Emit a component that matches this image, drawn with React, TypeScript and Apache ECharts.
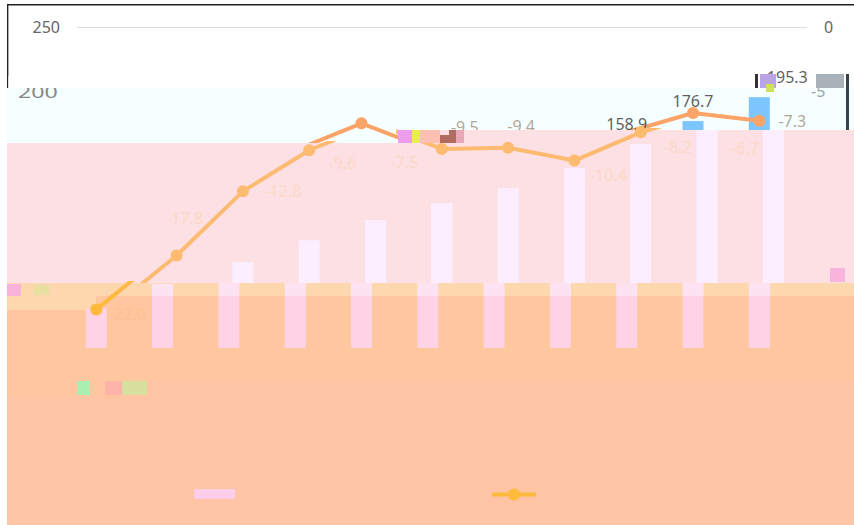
import React, { useEffect, useRef } from "react";
import * as echarts from "echarts";

// ---- data ----
const categoryIndex = [0, 1, 2, 3, 4, 5, 6, 7, 8, 9, 10];
const barValues = [31, 50, 67, 84, 99.7, 113, 124.6, 140.2, 158.9, 176.7, 195.3];
const lineValues = [-22.0, -17.8, -12.8, -9.6, -7.5, -9.5, -9.4, -10.4, -8.2, -6.7, -7.3];
const leftTickLabels = ["250"];
const rightTickLabels = ["0"];
const clippedLeftTick = "200";
const clippedRightTick = "-5";
const legendNames = ["Value", "Change"];

// ---- layout: pixel scales of the plot ----
const X0 = 96.3, XSTEP = 66.3;
const BAR_ZERO = 348, BAR_PX = 1.284;
const LINE_ZERO = 27, LINE_PX = 12.84;
const W = 854, H = 525;

// The picture is cut in horizontal bands; each draws the same data in its own colours
// (the middle one is displaced 14px to the right).
const layers = [
  {
    z: 2, dx: 0, bar: "#7dc5ff", line: "#fca368", label: "#a58b7a",
    slices: [[77, 398, 5, 143], [398, 854, 5, 130]],
    lineLabels: { 5: [37, -22], 6: [27, -22], 10: [33, 0] } as Record<number, number[]>,
    barLabels: { 8: [0, 0], 9: [0, 0], 10: [28, 0] } as Record<number, number[]>,
  },
  {
    z: 4, dx: 14, bar: "#fdeeff", line: "#fdbb72", label: "#fcd6bc",
    slices: [[7, 398, 143, 283], [398, 854, 130, 283]],
    lineLabels: { 1: [8, -38], 2: [40, 0], 3: [33, 13], 4: [29, 39], 7: [34, 14], 8: [37, 15], 9: [38, 35] } as Record<number, number[]>,
    barLabels: {} as Record<number, number[]>,
  },
  {
    z: 6, dx: 0, bar: "#fde2f2", line: "#fdb848", label: "#fdbe90",
    slices: [[7, 854, 283, 296]],
    lineLabels: {} as Record<number, number[]>,
    barLabels: {} as Record<number, number[]>,
  },
  {
    z: 6, dx: 0, bar: "#ffd2e6", line: "#ffba3c", label: "#fdbe90",
    slices: [[7, 854, 296, 400]],
    lineLabels: { 0: [31, 5] } as Record<number, number[]>,
    barLabels: {} as Record<number, number[]>,
  },
];

const rect = (x: number, y: number, w: number, h: number, fill: string, z: number) => ({
  type: "rect", silent: true, z, shape: { x, y, width: w, height: h }, style: { fill },
});

const noise: [number, number, number, number, string][] = [
  [7, 284, 14, 12, "#f7b4d8"], [34, 285, 15, 10, "#e8e0a0"],
  [398, 130, 14, 13, "#ee9cee"], [412, 130, 8, 13, "#e6ee50"], [420, 130, 20, 13, "#fcc0b2"],
  [440, 135, 16, 8, "#b06c5e"], [449, 130, 7, 6, "#b06c5e"], [456, 130, 8, 13, "#e8a8b8"],
  [755, 74, 3, 14, "#333333"], [760, 74, 16, 14, "#b8a4e6"], [766, 84, 8, 8, "#cfe05a"],
  [77, 381, 13, 14, "#a8eeb0"], [105, 381, 18, 14, "#feb4a8"], [122, 381, 25, 14, "#d8e0a0"],
  [830, 268, 15, 14, "#f8b4dc"],
];

export default function App() {
  const ref = useRef<HTMLDivElement>(null);
  useEffect(() => {
    const chart = echarts.init(ref.current!, undefined, { renderer: "svg" });

    const grid: any[] = [{ left: 77, top: 27, width: 730, height: 321 }];
    const xAxis: any[] = [{ type: "value", gridIndex: 0, show: false, min: 0, max: 10 }];
    const yAxis: any[] = [
      {
        type: "value", gridIndex: 0, min: 0, max: 250, interval: 50, z: 1,
        axisLine: { show: false }, axisTick: { show: false },
        axisLabel: {
          margin: 17, fontSize: 16, fontFamily: "Noto Sans", color: "#666",
          formatter: (v: number) => (leftTickLabels.includes(String(v)) ? String(v) : ""),
        },
        splitLine: {
          show: true,
          lineStyle: { color: ["rgba(0,0,0,0)", "rgba(0,0,0,0)", "rgba(0,0,0,0)", "rgba(0,0,0,0)", "rgba(0,0,0,0)", "#dddddd"], width: 1 },
        },
      },
      {
        type: "value", gridIndex: 0, position: "right", min: -25, max: 0, interval: 5, z: 1,
        axisLine: { show: false }, axisTick: { show: false }, splitLine: { show: false },
        axisLabel: {
          margin: 17, fontSize: 16, fontFamily: "Noto Sans", color: "#666",
          formatter: (v: number) => (rightTickLabels.includes(String(v)) ? String(v) : ""),
        },
      },
    ];
    const series: any[] = [];

    layers.forEach((layer, li) => {
      let firstAxes = [0, 0, 0];
      layer.slices.forEach(([x0, x1, y0, y1], si) => {
        const g = grid.length;
        grid.push({ left: x0, top: y0, width: x1 - x0, height: y1 - y0 });
        const xi = xAxis.length;
        xAxis.push({
          type: "value", gridIndex: g, show: false,
          min: (x0 - layer.dx - X0) / XSTEP, max: (x1 - layer.dx - X0) / XSTEP,
          splitLine: { show: false },
        });
        const yb = yAxis.length;
        yAxis.push({
          type: "value", gridIndex: g, show: false, splitLine: { show: false },
          min: (BAR_ZERO - y1) / BAR_PX, max: (BAR_ZERO - y0) / BAR_PX,
        });
        yAxis.push({
          type: "value", gridIndex: g, show: false, splitLine: { show: false },
          min: (LINE_ZERO - y1) / LINE_PX, max: (LINE_ZERO - y0) / LINE_PX,
        });
        if (si === 0) firstAxes = [xi, yb, yb + 1];
        const last = li === layers.length - 1;
        series.push({
          type: "bar", name: last ? legendNames[0] : `bar${li}${si}`, xAxisIndex: xi, yAxisIndex: yb,
          z: layer.z, barWidth: 21, clip: true, itemStyle: { color: layer.bar },
          data: categoryIndex.map((i) => [i, barValues[i]]),
        });
        series.push({
          type: "line", name: last ? legendNames[1] : `line${li}${si}`, xAxisIndex: xi, yAxisIndex: yb + 1,
          z: layer.z + 0.5, clip: true, showSymbol: true, symbol: "circle", symbolSize: 12,
          lineStyle: { color: layer.line, width: 4 }, itemStyle: { color: layer.line },
          data: categoryIndex.map((i) => [i, lineValues[i]]),
        });
      });
      const lineIdx = Object.keys(layer.lineLabels).map(Number);
      series.push({
        type: "scatter", name: `lineLabel${li}`, xAxisIndex: firstAxes[0], yAxisIndex: firstAxes[2],
        z: layer.z + 0.6, clip: false, symbolSize: 0, silent: true,
        data: lineIdx.map((i) => ({
          value: [i, lineValues[i]],
          label: {
            show: true, position: "inside", offset: layer.lineLabels[i],
            formatter: lineValues[i].toFixed(1), fontSize: 16, fontFamily: "Noto Sans", color: layer.label,
          },
        })),
      });
      const barIdx = Object.keys(layer.barLabels).map(Number);
      series.push({
        type: "scatter", name: `barLabel${li}`, xAxisIndex: firstAxes[0], yAxisIndex: firstAxes[1],
        z: layer.z + 0.6, clip: false, symbolSize: 0, silent: true,
        data: barIdx.map((i) => ({
          value: [i, barValues[i]],
          label: {
            show: true, position: "top", distance: 12, offset: layer.barLabels[i],
            formatter: barValues[i].toFixed(1), fontSize: 16, fontFamily: "Noto Sans", color: "#333",
          },
        })),
      });
    });

    const legendText = { fontSize: 1, padding: 0 };
    chart.setOption({
      animation: false,
      backgroundColor: "#ffffff",
      grid, xAxis, yAxis, series,
      legend: [
        {
          z: 20, left: 194, top: 489, itemWidth: 41, itemHeight: 10, padding: 0, selectedMode: false,
          data: [{ name: legendNames[0], icon: "rect" }], formatter: () => "", textStyle: legendText,
          itemStyle: { color: "#fdcdea" },
        },
        {
          z: 20, left: 490, top: 487, itemWidth: 44, itemHeight: 15, padding: 0, selectedMode: false,
          data: [legendNames[1]], formatter: () => "", textStyle: legendText,
          lineStyle: { width: 4 },
        },
      ],
      graphic: {
        elements: [
          // frame and the upper bands
          rect(7, 4, W - 7, 1.4, "#222222", 0),
          rect(7, 4, 1.4, 84, "#222222", 0),
          rect(7, 88, W - 7, 55, "#f5ffff", 0),
          // the two clipped tick labels
          {
            type: "text", silent: true, z: 1, x: 18, y: 92, scaleX: 1.45,
            style: { text: clippedLeftTick, fill: "#888888", font: "16px Noto Sans", verticalAlign: "middle", align: "left" },
          },
          {
            type: "text", silent: true, z: 1, x: 811, y: 91,
            style: { text: clippedRightTick, fill: "#9aa6ae", font: "16px Noto Sans", verticalAlign: "middle", align: "left" },
          },
          rect(8.4, 76, 68, 12, "#ffffff", 1.5),
          rect(808, 76, 46, 12, "#ffffff", 1.5),
          rect(816, 74, 28, 14, "#a8b2b8", 1.6),
          rect(846, 74, 3, 56, "#36424c", 1.6),
          // bands that cover the upper layer
          rect(7, 143, 391, 140, "#fde0e4", 3),
          rect(398, 130, W - 398, 153, "#fde0e4", 3),
          // bands that cover the middle layer
          rect(7, 283, W - 7, 13, "#fdd7ae", 5),
          rect(7, 296, 89, 14, "#fdd7ae", 5),
          rect(96, 296, W - 96, 84, "#fec79f", 5),
          rect(7, 310, 89, 85, "#fec79f", 5),
          rect(96, 380, 49, 15, "#fec79f", 5),
          rect(145, 380, W - 145, 145, "#fec4a4", 5),
          rect(7, 395, 138, 130, "#fec4a4", 5),
          // speckled blocks
          ...noise.map(([x, y, w, h, c]) => rect(x, y, w, h, c, 7)),
        ],
      },
    });
    return () => chart.dispose();
  }, []);
  return (
    <div
      ref={ref}
      style={{ position: "absolute", left: 0, top: 0, width: W, height: H, overflow: "hidden" }}
    />
  );
}
